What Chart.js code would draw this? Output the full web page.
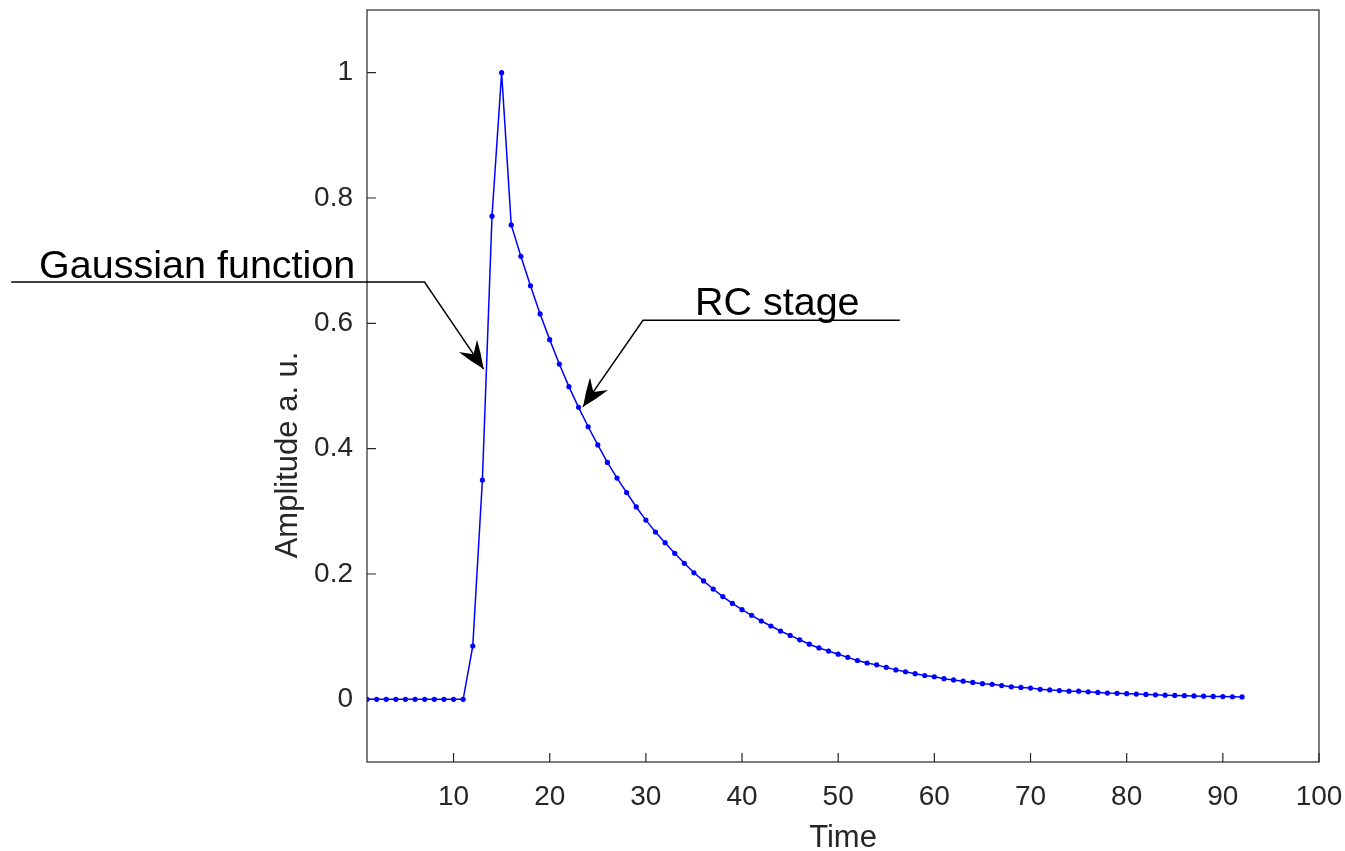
<!DOCTYPE html>
<html>
<head>
<meta charset="utf-8">
<title>Pulse shape</title>
<script src="https://cdn.jsdelivr.net/npm/chart.js@4.4.0/dist/chart.umd.min.js"></script>
<style>
  html, body { margin: 0; padding: 0; background: #fff; }
  #wrap { width: 1345px; height: 851px; position: relative; }
</style>
</head>
<body>
<div id="wrap"><canvas id="pulse"></canvas></div>
<script>
const timeSteps = [
  1, 2, 3, 4, 5, 6, 7, 8, 9, 10, 11, 12, 13, 14, 15, 16, 17, 18, 19, 20,
  21, 22, 23, 24, 25, 26, 27, 28, 29, 30, 31, 32, 33, 34, 35, 36, 37, 38, 39, 40,
  41, 42, 43, 44, 45, 46, 47, 48, 49, 50, 51, 52, 53, 54, 55, 56, 57, 58, 59, 60,
  61, 62, 63, 64, 65, 66, 67, 68, 69, 70, 71, 72, 73, 74, 75, 76, 77, 78, 79, 80,
  81, 82, 83, 84, 85, 86, 87, 88, 89, 90, 91, 92
];
const amplitude = [
  0, 0, 0, 0, 0, 0, 0, 0, 0, 0, 0,
  0.085, 0.350, 0.771, 1.000, 0.757, 0.707, 0.660, 0.615, 0.574,
  0.535, 0.499, 0.466, 0.435, 0.406, 0.378, 0.353, 0.330, 0.307, 0.286,
  0.267, 0.250, 0.233, 0.217, 0.202, 0.189, 0.176, 0.164, 0.153, 0.143,
  0.134, 0.125, 0.117, 0.109, 0.102, 0.095, 0.088, 0.082, 0.077, 0.072,
  0.067, 0.062, 0.058, 0.055, 0.051, 0.047, 0.044, 0.041, 0.038, 0.036,
  0.033, 0.031, 0.029, 0.027, 0.025, 0.024, 0.022, 0.020, 0.019, 0.018,
  0.016, 0.015, 0.014, 0.013, 0.013, 0.012, 0.011, 0.010, 0.0096, 0.0090,
  0.0084, 0.0078, 0.0072, 0.0067, 0.0062, 0.0058, 0.0054, 0.0050, 0.0047, 0.0044,
  0.0041, 0.0038
];
const xTicks = [10, 20, 30, 40, 50, 60, 70, 80, 90, 100];
const yTicks = [0, 0.2, 0.4, 0.6, 0.8, 1];

// callouts in data units: label, where its text starts, and the leader path ending at the arrow tip
const callouts = [
  { text: 'Gaussian function', at: [-33.1, 0.673], path: [[-36.0, 0.666], [6.98, 0.666], [13.13, 0.527]] },
  { text: 'RC stage', at: [35.1, 0.6135], path: [[56.4, 0.605], [29.7, 0.605], [23.47, 0.467]] }
];

const FONT = '"Liberation Sans", Arial, Helvetica, sans-serif';
const AXIS_COLOR = '#262626';

const points = timeSteps.map((t, i) => ({ x: t, y: amplitude[i] }));

function drawArrowHead(ctx, from, tip) {
  const ang = Math.atan2(tip.y - from.y, tip.x - from.x);
  const len = 28, half = 11, notch = 18;
  ctx.save();
  ctx.translate(tip.x, tip.y);
  ctx.rotate(ang);
  ctx.beginPath();
  ctx.moveTo(0, 0);
  ctx.quadraticCurveTo(-len * 0.5, -half * 0.6, -len, -half);
  ctx.lineTo(-notch, 0);
  ctx.lineTo(-len, half);
  ctx.quadraticCurveTo(-len * 0.5, half * 0.6, 0, 0);
  ctx.closePath();
  ctx.fill();
  ctx.restore();
}

const matlabAxes = {
  id: 'matlabAxes',
  afterDraw(chart) {
    const { ctx, chartArea: a, scales: { x, y } } = chart;
    ctx.save();
    // box
    ctx.strokeStyle = AXIS_COLOR;
    ctx.lineWidth = 1.2;
    ctx.strokeRect(a.left, a.top, a.right - a.left, a.bottom - a.top);
    // inward ticks
    ctx.beginPath();
    xTicks.forEach(v => {
      const px = x.getPixelForValue(v);
      ctx.moveTo(px, a.bottom);
      ctx.lineTo(px, a.bottom - 9);
    });
    yTicks.forEach(v => {
      const py = y.getPixelForValue(v);
      ctx.moveTo(a.left, py);
      ctx.lineTo(a.left + 9, py);
    });
    ctx.stroke();

    // axis titles
    ctx.fillStyle = AXIS_COLOR;
    ctx.font = '31px ' + FONT;
    ctx.textAlign = 'center';
    ctx.textBaseline = 'alphabetic';
    ctx.fillText('Time', (a.left + a.right) / 2, a.bottom + 85);
    ctx.save();
    ctx.translate(a.left - 70, y.getPixelForValue(0.39));
    ctx.rotate(-Math.PI / 2);
    ctx.fillText('Amplitude a. u.', 0, 0);
    ctx.restore();

    // callouts
    ctx.fillStyle = '#000';
    ctx.strokeStyle = '#000';
    ctx.lineWidth = 1.5;
    ctx.font = '39.5px ' + FONT;
    ctx.textAlign = 'left';
    callouts.forEach(c => {
      const pts = c.path.map(p => ({ x: x.getPixelForValue(p[0]), y: y.getPixelForValue(p[1]) }));
      ctx.beginPath();
      ctx.moveTo(pts[0].x, pts[0].y);
      for (let i = 1; i < pts.length; i++) ctx.lineTo(pts[i].x, pts[i].y);
      ctx.stroke();
      drawArrowHead(ctx, pts[pts.length - 2], pts[pts.length - 1]);
      ctx.fillText(c.text, x.getPixelForValue(c.at[0]), y.getPixelForValue(c.at[1]));
    });
    ctx.restore();
  }
};

new Chart(document.getElementById('pulse'), {
  type: 'line',
  data: {
    datasets: [{
      data: points,
      borderColor: '#0000ff',
      backgroundColor: '#0000ff',
      borderWidth: 1.5,
      pointRadius: 2.6,
      pointBorderWidth: 0,
      pointHoverRadius: 2.6,
      tension: 0,
      fill: false
    }]
  },
  options: {
    responsive: true,
    maintainAspectRatio: false,
    animation: false,
    events: [],
    layout: { padding: { left: 0, top: 10, right: 26, bottom: 0 } },
    plugins: {
      legend: { display: false },
      tooltip: { enabled: false }
    },
    scales: {
      x: {
        type: 'linear',
        min: 1,
        max: 100,
        afterBuildTicks: s => { s.ticks = xTicks.map(v => ({ value: v })); },
        afterFit: s => { s.height = 89; s.paddingLeft = 0; s.paddingRight = 0; },
        grid: { display: false, drawTicks: false },
        border: { display: false },
        ticks: {
          color: AXIS_COLOR,
          font: { family: FONT, size: 28 },
          padding: 18,
          maxRotation: 0,
          autoSkip: false
        }
      },
      y: {
        type: 'linear',
        min: -0.1,
        max: 1.1,
        afterBuildTicks: s => { s.ticks = yTicks.map(v => ({ value: v })); },
        afterFit: s => { s.width = 367; s.paddingTop = 0; s.paddingBottom = 0; },
        grid: { display: false, drawTicks: false },
        border: { display: false },
        ticks: {
          color: AXIS_COLOR,
          font: { family: FONT, size: 28 },
          padding: 14,
          callback: v => String(v)
        }
      }
    }
  },
  plugins: [matlabAxes]
});
</script>
</body>
</html>
